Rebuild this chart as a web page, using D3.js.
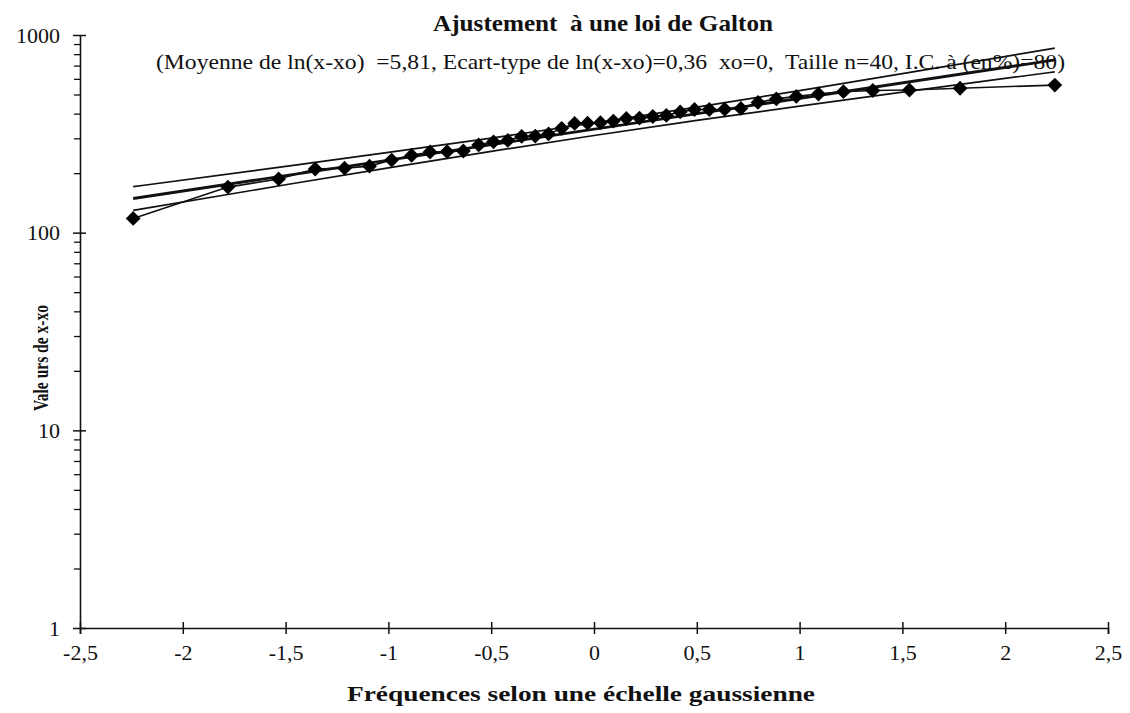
<!DOCTYPE html>
<html>
<head>
<meta charset="utf-8">
<script src="https://cdn.jsdelivr.net/npm/d3@7"></script>
<style>
  body { margin: 0; background: #fff; }
  text { font-family: "Liberation Serif", "DejaVu Serif", serif; fill: #111; }
</style>
</head>
<body>
<div id="chart"></div>
<script>
// gaussian frequencies (x) of the 40 sorted observations
var zValues = [-2.2414, -1.7805, -1.5341, -1.3560, -1.2133, -1.0919, -0.9842, -0.8871, -0.7975, -0.7144,
  -0.6356, -0.5607, -0.4888, -0.4193, -0.3518, -0.2858, -0.2211, -0.1573, -0.0941, -0.0313,
  0.0313, 0.0941, 0.1573, 0.2211, 0.2858, 0.3518, 0.4193, 0.4888, 0.5607, 0.6356,
  0.7144, 0.7975, 0.8871, 0.9842, 1.0919, 1.2133, 1.3560, 1.5341, 1.7805, 2.2414];
// observed values of x-xo
var observed = [118, 170, 187, 210, 212, 217, 233, 246, 256, 257,
  259, 278, 288, 293, 307, 308, 316, 337, 357, 358,
  360, 367, 378, 380, 387, 392, 408, 420, 420, 421,
  425, 456, 475, 489, 503, 517, 524, 527, 538, 558];

// fitted Galton line and confidence band (80%)
var fitZ = [-2.2414, 2.2414];
var fitValues = [148.9, 747.6];
var bandZ = [-2.2414, -1.5, -1, -0.5, 0, 0.5, 1, 1.5, 2.2414];
var upperValues = [170.9, 216.4, 254.6, 301.1, 358.9, 431.6, 523.1, 637.1, 858.2];
var lowerValues = [129.7, 174.7, 212.8, 257.8, 310.1, 369.6, 437.1, 514.3, 651.1];

var xTicks = [-2.5, -2, -1.5, -1, -0.5, 0, 0.5, 1, 1.5, 2, 2.5];
var yTicks = [1, 10, 100, 1000];

var width = 1130, height = 713;
var svg = d3.select("#chart").append("svg")
  .attr("width", width)
  .attr("height", height);

var x = d3.scaleLinear().domain([-2.5, 2.5]).range([80, 1108]);
var y = d3.scaleLog().domain([1, 1000]).range([628, 35]);

var comma = d => String(d).replace(".", ",");

// x axis
var gx = svg.append("g")
  .attr("transform", "translate(0," + y(1) + ")")
  .call(d3.axisBottom(x).tickValues(xTicks).tickSizeOuter(0).tickSize(6).tickPadding(10).tickFormat(comma));
gx.select(".domain").attr("stroke", "#111").attr("stroke-width", 1.6);
gx.selectAll(".tick line").attr("y1", -6).attr("stroke", "#111").attr("stroke-width", 1.5);
gx.selectAll(".tick text").attr("font-size", 22).attr("font-family", "Liberation Serif").attr("fill", "#222");

// y axis minor ticks
var minor = [];
[1, 10, 100].forEach(d => { for (var k = 2; k <= 9; k++) minor.push(d * k); });
var gym = svg.append("g")
  .attr("transform", "translate(" + x(-2.5) + ",0)")
  .call(d3.axisLeft(y).tickValues(minor).tickSize(5).tickSizeOuter(0).tickFormat(""));
gym.select(".domain").remove();
gym.selectAll(".tick line").attr("x2", -6).attr("x1", 1).attr("stroke", "#111").attr("stroke-width", 1.3);

// y axis
var gy = svg.append("g")
  .attr("transform", "translate(" + x(-2.5) + ",0)")
  .call(d3.axisLeft(y).tickValues(yTicks).tickSize(7).tickSizeOuter(0).tickPadding(13).tickFormat(d3.format("d")));
gy.select(".domain").attr("stroke", "#111").attr("stroke-width", 1.6);
gy.selectAll(".tick line").attr("x1", 6).attr("stroke", "#111").attr("stroke-width", 1.5);
gy.selectAll(".tick text").attr("font-size", 22).attr("font-family", "Liberation Serif").attr("fill", "#222");

// lines
var line = d3.line().x(d => x(d[0])).y(d => y(d[1]));
var bandLine = d3.line().curve(d3.curveMonotoneX).x(d => x(d[0])).y(d => y(d[1]));

svg.append("path")
  .datum(d3.zip(bandZ, upperValues))
  .attr("d", bandLine).attr("fill", "none").attr("stroke", "#111").attr("stroke-width", 1.7);
svg.append("path")
  .datum(d3.zip(bandZ, lowerValues))
  .attr("d", bandLine).attr("fill", "none").attr("stroke", "#111").attr("stroke-width", 1.7);
svg.append("path")
  .datum(d3.zip(fitZ, fitValues))
  .attr("d", line).attr("fill", "none").attr("stroke", "#111").attr("stroke-width", 2.8);

var points = d3.zip(zValues, observed);
svg.append("path")
  .datum(points)
  .attr("d", line).attr("fill", "none").attr("stroke", "#111").attr("stroke-width", 1.6);

var diamond = d3.symbol().type(d3.symbolDiamond2).size(140);
svg.selectAll(".pt")
  .data(points)
  .enter().append("path")
  .attr("class", "pt")
  .attr("transform", d => "translate(" + x(d[0]) + "," + y(d[1]) + ")")
  .attr("d", diamond)
  .attr("fill", "#000");

// titles
svg.append("text")
  .attr("x", 603).attr("y", 31)
  .attr("text-anchor", "middle")
  .attr("font-size", 23).attr("font-weight", "bold")
  .attr("textLength", 340).attr("lengthAdjust", "spacingAndGlyphs")
  .style("white-space", "pre")
  .text("Ajustement  à une loi de Galton");

svg.append("text")
  .attr("x", 156).attr("y", 69)
  .attr("font-size", 22)
  .attr("textLength", 909).attr("lengthAdjust", "spacingAndGlyphs")
  .style("white-space", "pre")
  .text("(Moyenne de ln(x-xo)  =5,81, Ecart-type de ln(x-xo)=0,36  xo=0,  Taille n=40, I.C. à (en%)=80)");

svg.append("text")
  .attr("x", 581).attr("y", 701)
  .attr("text-anchor", "middle")
  .attr("font-size", 21).attr("font-weight", "bold")
  .attr("textLength", 468).attr("lengthAdjust", "spacingAndGlyphs")
  .text("Fréquences selon une échelle gaussienne");

svg.append("text")
  .attr("transform", "translate(48,358) rotate(-90)")
  .attr("text-anchor", "middle")
  .attr("font-size", 20).attr("font-weight", "bold")
  .attr("textLength", 106).attr("lengthAdjust", "spacingAndGlyphs")
  .text("Vale urs de x-xo");
</script>
</body>
</html>
